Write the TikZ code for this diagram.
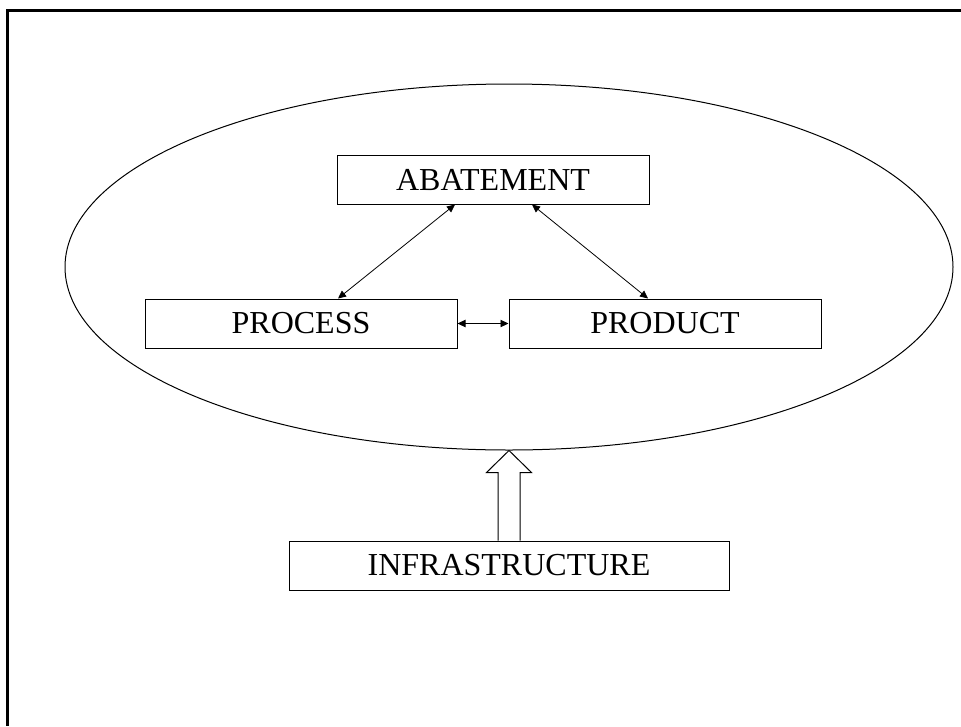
\documentclass[tikz,border=0pt]{standalone}
\usepackage{fontspec}
\setmainfont{Liberation Serif}
\usetikzlibrary{arrows.meta,shapes.geometric,calc}
\tikzset{
    box/.style={rectangle,draw=black,line width=0.75pt,minimum width=234pt,
        minimum height=36.75pt,inner sep=0pt,font=\fontsize{24}{28}\selectfont},
    arr/.style={{Triangle[length=6pt,width=5.5pt]}-{Triangle[length=6pt,width=5.5pt]},line width=0.6pt},
    blockarr/.style={draw=black,line width=0.75pt,fill=white,line join=miter}
}
\begin{document}
\begin{tikzpicture}[x=0.75pt,y=-0.75pt]
    \useasboundingbox (0,0) rectangle (961,726);
    \draw[line width=2.25pt] (961,10.5) -- (7.5,10.5) -- (7.5,726);

    \node[ellipse,draw=black,line width=0.75pt,inner sep=0pt,minimum width=666pt,
        minimum height=274.5pt] (system) at (509,267) {};
    \node[box] (abatement) at (493,179.5) {ABATEMENT};
    \node[box] (process) at (301,323.5) {PROCESS};
    \node[box] (product) at (665,323.5) {PRODUCT};
    \node[box,minimum width=330pt] (infra) at (509,565.5) {INFRASTRUCTURE};

    \draw[arr] ($(abatement.south)+(-38,0)$) -- ($(process.north)+(37,0)$);
    \draw[arr] ($(abatement.south)+(39,0)$) -- ($(product.north)+(-17,0)$);
    \draw[arr] (process.east) -- (product.west);

    % hollow arrow from the infrastructure up to the ellipse
    \draw[blockarr] ($(infra.north)+(-11,0)$) -- ($(system.south)+(-11,22)$)
        -- ($(system.south)+(-22.5,22)$) -- (system.south) -- ($(system.south)+(22.5,22)$)
        -- ($(system.south)+(11,22)$) -- ($(infra.north)+(11,0)$);
\end{tikzpicture}
\end{document}
